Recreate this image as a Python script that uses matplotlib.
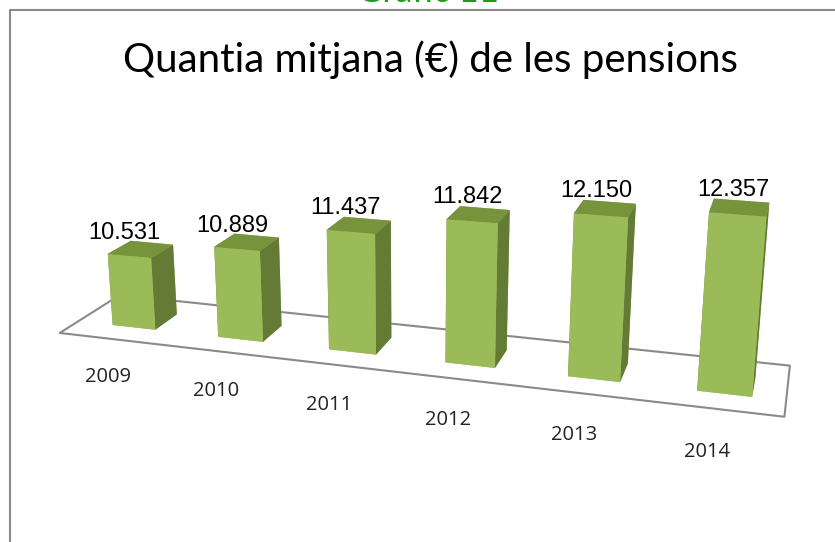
import matplotlib
matplotlib.use("Agg")
import matplotlib.pyplot as plt
import numpy as np
from mpl_toolkits.mplot3d.art3d import Poly3DCollection
from matplotlib.lines import Line2D

years = ["2009", "2010", "2011", "2012", "2013", "2014"]
values = [10531, 10889, 11437, 11842, 12150, 12357]
labels = ["10.531", "10.889", "11.437", "11.842", "12.150", "12.357"]
title = "Quantia mitjana (€) de les pensions"
base = 9000

fig = plt.figure(figsize=(8.35, 5.42), dpi=100)

# frame and heading
fig.add_artist(Line2D([10/835, 10/835, 1], [0, 1-10/542, 1-10/542], color='#8a8a8a', lw=1.5))
fig.text(0.512, 1-2/542, "Gràfic 11", color='#1e9b1e', fontsize=25, ha='center', va='baseline', family='Lato')
fig.text(0.515, 1-60/542, title, fontsize=29, ha='center', va='center', family='Lato')

ax = fig.add_axes([-0.0144, 0.126, 1.0, 0.8], projection='3d', computed_zorder=False)
ax.set_proj_type('persp', focal_length=0.58)
ax.view_init(elev=17, azim=-73)
ax.set_axis_off()

n = len(values)
x = np.arange(n)
bw = 0.41
xlo, xhi = -0.65, n - 0.55
ylo, yhi = -0.3, 1.0
ztop = 12800
zscale = 2370
ax.set_xlim(xlo, xhi)
ax.set_ylim(ylo, yhi)
ax.set_zlim(base, ztop)
ax.set_box_aspect((xhi - xlo, yhi - ylo, (ztop - base) / zscale), zoom=1.756)

# floor
fx0, fx1, fy0, fy1 = -0.55, n - 0.55, -0.3, 0.75
floor = [[(fx0, fy0, base), (fx1, fy0, base), (fx1, fy1, base), (fx0, fy1, base)]]
fl = Poly3DCollection(floor, facecolor='white', edgecolor='#8a8a8a', lw=1.5, zorder=1)
ax.add_collection3d(fl)
fl.set_clip_on(False)

# bars: bottom, top, front, back, left, right
face_cols = ['#9bbb59', '#77933c', '#9bbb59', '#9bbb59', '#6e8a3a', '#637b34']
cols = face_cols * n
bars = ax.bar3d(x - bw/2, np.zeros(n), np.full(n, base), bw, bw, np.array(values) - base,
                color=cols, shade=False, zorder=2, edgecolor='none')
bars.set_clip_on(False)

for i in range(n):
    ax.text(i - 0.04, 0, values[i] + 240, labels[i], ha='center', va='bottom',
            fontsize=17, family='Liberation Sans', zorder=3)
    ax.text(i - 0.08, -0.35, base - 800, years[i], ha='center', va='center',
            fontsize=14.5, family='Open Sans', color='#222222', zorder=3)

fig.savefig("out.png", dpi=100)
